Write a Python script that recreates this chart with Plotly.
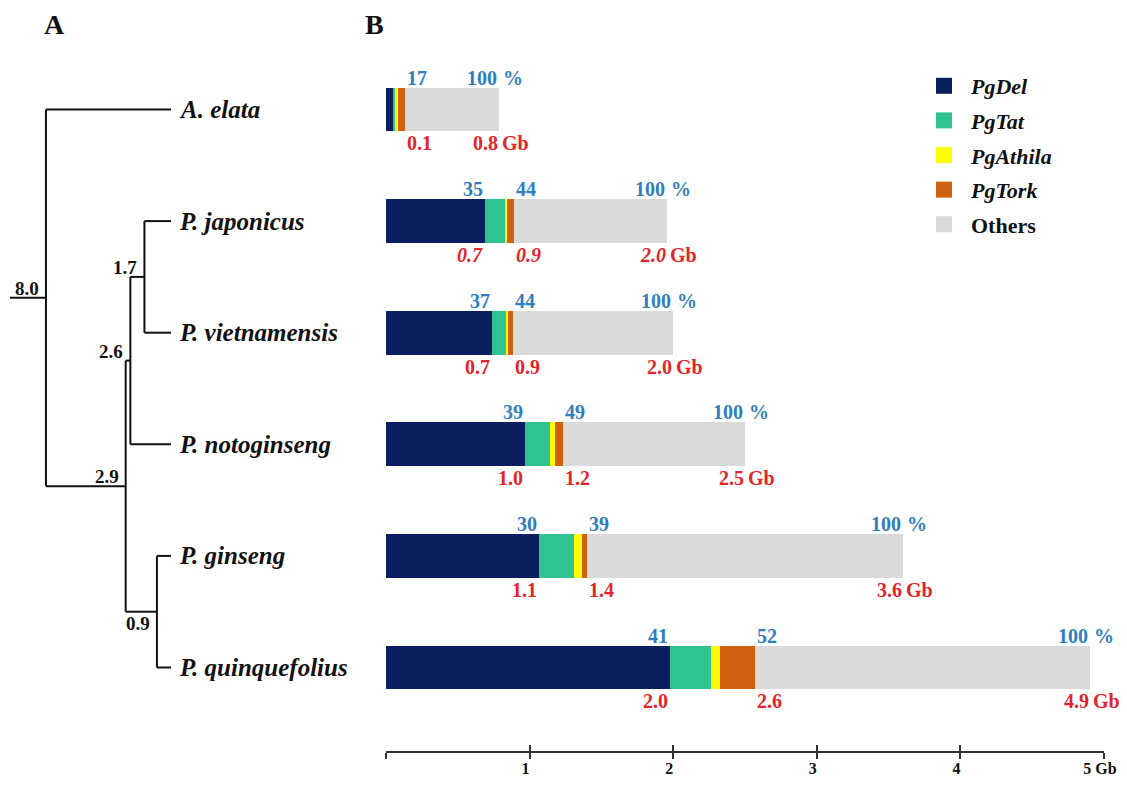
import plotly.graph_objects as go

# ---------------- data ----------------
species = ["A. elata", "P. japonicus", "P. vietnamensis",
           "P. notoginseng", "P. ginseng", "P. quinquefolius"]

# genome composition (Gb)
pg_del = [0.055, 0.69, 0.735, 0.97, 1.065, 1.98]
pg_tat = [0.006, 0.14, 0.10, 0.17, 0.244, 0.285]
pg_athila = [0.022, 0.012, 0.016, 0.035, 0.053, 0.059]
pg_tork = [0.05, 0.05, 0.03, 0.058, 0.039, 0.243]
others = [0.657, 1.063, 1.115, 1.267, 2.199, 2.333]

# printed labels
del_pct_labels = ["", "35", "37", "39", "30", "41"]
te_pct_labels = ["17", "44", "44", "49", "39", "52"]
del_gb_labels = ["", "0.7", "0.7", "1.0", "1.1", "2.0"]
te_gb_labels = ["0.1", "0.9", "0.9", "1.2", "1.4", "2.6"]
genome_gb_labels = ["0.8", "2.0", "2.0", "2.5", "3.6", "4.9"]

axis_tickvals = [0, 1, 2, 3, 4, 5]
axis_ticktext = ["", "1", "2", "3", "4", "5 Gb"]

# phylogeny: internal node -> (age in Mya, children)
tree = {
    "root": (8.0, ["A. elata", "panax"]),
    "panax": (2.9, ["clade_nv", "clade_gq"]),
    "clade_nv": (2.6, ["clade_jv", "P. notoginseng"]),
    "clade_jv": (1.7, ["P. japonicus", "P. vietnamensis"]),
    "clade_gq": (0.9, ["P. ginseng", "P. quinquefolius"]),
}
root_stub_age = 10.3

# ---------------- styles / geometry ----------------
SERIF = "Liberation Serif, Times New Roman, serif"
C_DEL, C_TAT, C_ATH, C_TORK, C_OTH = "#0b1f5e", "#2fc48f", "#ffff00", "#d0620f", "#dadada"
BLUE, RED = "#2f7ebf", "#e3242b"
ITALIC_RED_ROWS = {"P. japonicus"}

OFF = 8                      # page body margin
W, H = 1127 - 2 * OFF, 786 - 2 * OFF


def px(p):                   # page x pixel -> paper
    return (p - OFF) / W


def py(p):                   # page y pixel -> paper
    return 1 - (p - OFF) / H


BAR_W = 0.394
ROW0, ROW_STEP = 109.5 - OFF, 111.6
Y_RANGE = [(H - ROW0) / ROW_STEP, -ROW0 / ROW_STEP]
X_DOMAIN = [px(386), px(1104)]
AXIS_POS = py(752)
TREE_X0, TREE_K = 171 - OFF, 15.63
TREE_RANGE = [TREE_X0 / TREE_K, (TREE_X0 - W) / TREE_K]

fig = go.Figure()

ys = list(range(len(species)))
series = [("PgDel", pg_del, C_DEL), ("PgTat", pg_tat, C_TAT),
          ("PgAthila", pg_athila, C_ATH), ("PgTork", pg_tork, C_TORK),
          ("Others", others, C_OTH)]
for name, vals, col in series:
    fig.add_trace(go.Bar(x=vals, y=ys, orientation="h", marker=dict(color=col, line=dict(width=0)),
                         width=BAR_W, showlegend=False, name=name, hoverinfo="skip"))

# legend entries
for name, vals, col in series:
    label = "<b>Others</b>" if name == "Others" else f"<b><i>{name}</i></b>"
    fig.add_trace(go.Scatter(x=[None], y=[None], mode="markers", name=label,
                             legendgroup=name,
                             marker=dict(symbol="square", size=16, color=col)))

# dummy trace for the outside-tick axis
fig.add_trace(go.Scatter(x=[None], y=[None], xaxis="x3", yaxis="y", showlegend=False,
                         mode="markers", hoverinfo="skip"))

# ---------------- tree ----------------
node_y = {}


def get_y(n):
    if n in node_y:
        return node_y[n]
    if n in tree:
        cy = [get_y(c) for c in tree[n][1]]
        node_y[n] = (min(cy) + max(cy)) / 2
    else:
        node_y[n] = species.index(n)
    return node_y[n]


def age(n):
    return tree[n][0] if n in tree else 0.0


get_y("root")
lx, ly = [root_stub_age, age("root"), None], [node_y["root"], node_y["root"], None]
for n, (a, ch) in tree.items():
    cy = [node_y[c] for c in ch]
    lx += [a, a, None]
    ly += [min(cy), max(cy), None]
    for c in ch:
        lx += [a, age(c), None]
        ly += [node_y[c], node_y[c], None]
fig.add_trace(go.Scatter(x=lx, y=ly, mode="lines", xaxis="x2", yaxis="y2",
                         line=dict(color="#111111", width=2), showlegend=False, hoverinfo="skip"))

ann = []
for n, (a, ch) in tree.items():
    below = n == "clade_gq"
    ann.append(dict(x=a, y=node_y[n], xref="x2", yref="y2", text=f"<b>{a:.1f}</b>",
                    showarrow=False, xanchor="right", yanchor="top" if below else "bottom",
                    xshift=-5, yshift=1 if below else -3,
                    font=dict(family=SERIF, size=19, color="#111111")))
for i, sp in enumerate(species):
    ann.append(dict(x=0, y=i, xref="x2", yref="y2", text=f"<b><i>{sp}</i></b>",
                    showarrow=False, xanchor="left", yanchor="middle", xshift=6,
                    font=dict(family=SERIF, size=25, color="#111111")))

# ---------------- bar labels ----------------
for i, sp in enumerate(species):
    d = pg_del[i]
    te = pg_del[i] + pg_tat[i] + pg_athila[i] + pg_tork[i]
    tot = te + others[i]
    top = i - BAR_W / 2
    bot = i + BAR_W / 2
    fb = dict(family=SERIF, size=20, color=BLUE)
    fr = dict(family=SERIF, size=20, color=RED)
    it = sp in ITALIC_RED_ROWS

    def t(s, italic=False):
        return f"<b><i>{s}</i></b>" if italic else f"<b>{s}</b>"

    if del_pct_labels[i]:
        ann.append(dict(x=d, y=top, text=t(del_pct_labels[i]), xanchor="right", yanchor="bottom",
                        yshift=-3, font=fb))
    ann.append(dict(x=te, y=top, text=t(te_pct_labels[i]), xanchor="left", yanchor="bottom",
                    yshift=-3, font=fb))
    ann.append(dict(x=tot, y=top, text=t("100"), xanchor="right", yanchor="bottom",
                    yshift=-3, font=fb))
    ann.append(dict(x=tot, y=top, text=t("%"), xanchor="left", yanchor="bottom",
                    xshift=2, yshift=-3, font=fb))
    if del_gb_labels[i]:
        ann.append(dict(x=d, y=bot, text=t(del_gb_labels[i], it), xanchor="right", yanchor="top",
                        yshift=1, font=fr))
    ann.append(dict(x=te, y=bot, text=t(te_gb_labels[i], it), xanchor="left", yanchor="top",
                    yshift=1, font=fr))
    ann.append(dict(x=tot, y=bot, text=t(genome_gb_labels[i], it), xanchor="right", yanchor="top",
                    xshift=1, yshift=1, font=fr))
    ann.append(dict(x=tot, y=bot, text=t("Gb"), xanchor="left", yanchor="top",
                    xshift=1, yshift=1, font=fr))

for a in ann:
    a.setdefault("xref", "x")
    a.setdefault("yref", "y")
    a.setdefault("showarrow", False)

# panel letters
for letter, lxp in (("A", 54), ("B", 374)):
    ann.append(dict(x=px(lxp), y=py(25), xref="paper", yref="paper", text=f"<b>{letter}</b>",
                    xanchor="center", yanchor="middle", showarrow=False,
                    font=dict(family=SERIF, size=28, color="#111111")))

fig.update_layout(
    template="none",
    width=W, height=H, margin=dict(l=0, r=0, t=0, b=0, autoexpand=False),
    paper_bgcolor="white", plot_bgcolor="rgba(0,0,0,0)",
    barmode="stack", bargap=0,
    annotations=ann,
    showlegend=True,
    legend=dict(x=px(917), y=py(65), xanchor="left", yanchor="top",
                font=dict(family=SERIF, size=22, color="#111111"),
                tracegroupgap=3, itemsizing="trace", itemwidth=44,
                bgcolor="rgba(0,0,0,0)"),
    xaxis=dict(domain=X_DOMAIN, range=[0, 5], anchor="free", position=AXIS_POS,
               automargin=False,
               showline=True, linecolor="#333333", linewidth=1.5, showgrid=False, zeroline=False,
               tickvals=axis_tickvals, ticktext=[f"<b>{s}</b>" for s in axis_ticktext],
               ticks="inside", ticklen=6, tickwidth=1.5, tickcolor="#333333",
               ticklabelstandoff=2, ticklabelshift=-4, ticklabeloverflow="allow",
               tickfont=dict(family=SERIF, size=16, color="#111111"), fixedrange=True),
    xaxis3=dict(overlaying="x", range=[0, 5], anchor="free", position=AXIS_POS,
                automargin=False,
                showline=False, showgrid=False, zeroline=False, tickvals=axis_tickvals,
                showticklabels=False, ticks="outside", ticklen=6, tickwidth=1.5,
                tickcolor="#333333", side="bottom"),
    yaxis=dict(domain=[0, 1], range=Y_RANGE, visible=False, fixedrange=True, automargin=False),
    xaxis2=dict(domain=[0, 1], range=TREE_RANGE, visible=False, anchor="y2", automargin=False),
    yaxis2=dict(domain=[0, 1], range=Y_RANGE, visible=False, anchor="x2", automargin=False),
)

fig.write_html("out.html", config={"displayModeBar": False})
